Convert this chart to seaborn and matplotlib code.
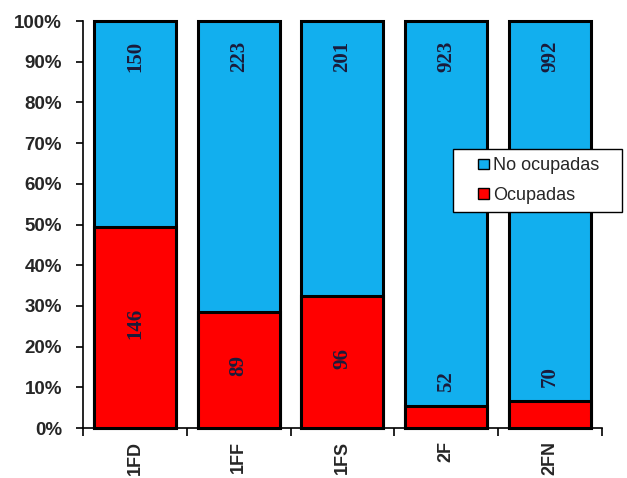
import matplotlib
matplotlib.use("Agg")
import matplotlib.pyplot as plt
import matplotlib.ticker as mticker
from matplotlib.patches import Patch, Rectangle
from matplotlib.legend_handler import HandlerPatch
import seaborn as sns
import pandas as pd

categories = ["1FD", "1FF", "1FS", "2F", "2FN"]
ocupadas = [146, 89, 96, 52, 70]
no_ocupadas = [150, 223, 201, 923, 992]
series_names = ["No ocupadas", "Ocupadas"]

BLUE = "#12AFEE"
RED = "#FF0000"
LABEL_COLOR = "#1b1b3a"

df = pd.DataFrame({"cat": categories, "ocup": ocupadas, "no": no_ocupadas})
df["total"] = df["ocup"] + df["no"]
df["pct_ocup"] = df["ocup"] / df["total"] * 100
df["pct_all"] = 100.0

sns.set_theme(style="white")
plt.rcParams["font.family"] = ["Liberation Sans", "DejaVu Sans"]

fig = plt.figure(figsize=(6.27, 4.78), dpi=100)
ax = fig.add_axes([0.1324, 0.1046, 0.8276, 0.8514])

bar_kw = dict(edgecolor="black", linewidth=2.2, width=0.79, saturation=1)
sns.barplot(data=df, x="cat", y="pct_all", color=BLUE, ax=ax, **bar_kw)
sns.barplot(data=df, x="cat", y="pct_ocup", color=RED, ax=ax, **bar_kw)
for p in ax.patches:
    p.set_clip_on(False)

ax.set_xlim(-0.5, len(categories) - 0.5)
ax.set_ylim(0, 100)
ax.set_xlabel("")
ax.set_ylabel("")

# y axis: percentage ticks
ax.yaxis.set_major_locator(mticker.MultipleLocator(10))
ax.yaxis.set_major_formatter(mticker.PercentFormatter(decimals=0))
ax.tick_params(axis="y", which="major", direction="out", length=5, width=1.2,
               color="black", left=True, labelsize=13.5, pad=10)
for t in ax.get_yticklabels():
    t.set_fontweight("bold")

# x axis: tick marks between categories, labels at centers
ax.set_xticks(range(len(categories)))
ax.set_xticklabels(categories, rotation=90, fontsize=13, fontweight="bold")
ax.tick_params(axis="x", which="major", length=0, pad=9)
ax.set_xticks([i - 0.5 for i in range(len(categories) + 1)], minor=True)
ax.tick_params(axis="x", which="minor", direction="out", length=6, width=1.2,
               color="black", bottom=True)

for side in ["top", "right"]:
    ax.spines[side].set_visible(False)
for side in ["left", "bottom"]:
    ax.spines[side].set_color("black")
    ax.spines[side].set_linewidth(1.2)

# value labels
label_kw = dict(rotation=90, ha="center", fontsize=15, fontweight="bold",
                color=LABEL_COLOR, family=["Liberation Serif", "DejaVu Serif"])
for i, row in df.iterrows():
    ax.annotate(str(row["no"]), (i, 100), xytext=(0, -14),
                textcoords="offset points", va="top", **label_kw)
    if row["pct_ocup"] > 15:
        ax.annotate(str(row["ocup"]), (i, row["pct_ocup"] / 2), xytext=(0, 3),
                    textcoords="offset points", va="center", **label_kw)
    else:
        ax.annotate(str(row["ocup"]), (i, row["pct_ocup"]), xytext=(0, 10),
                    textcoords="offset points", va="bottom", **label_kw)


def right_square(legend, orig_handle, xdescent, ydescent, width, height, fontsize):
    side = 0.6 * fontsize
    return Rectangle((width - side - xdescent, -ydescent + (height - side) / 2),
                     side, side)


handles = [Patch(facecolor=BLUE, edgecolor="black", linewidth=1),
           Patch(facecolor=RED, edgecolor="black", linewidth=1)]
leg = fig.legend(handles, series_names, loc="upper left",
                 bbox_to_anchor=(0.7225, 0.688, 0.27, 0.0), mode="expand",
                 frameon=True, fancybox=False, edgecolor="black", framealpha=1,
                 fontsize=13, handlelength=1.55, handleheight=0.7,
                 handletextpad=0.2, borderpad=0.45, labelspacing=0.7,
                 borderaxespad=0,
                 handler_map={Patch: HandlerPatch(patch_func=right_square)})
leg.get_frame().set_linewidth(1)

fig.savefig("out.png", dpi=100, facecolor="white")
